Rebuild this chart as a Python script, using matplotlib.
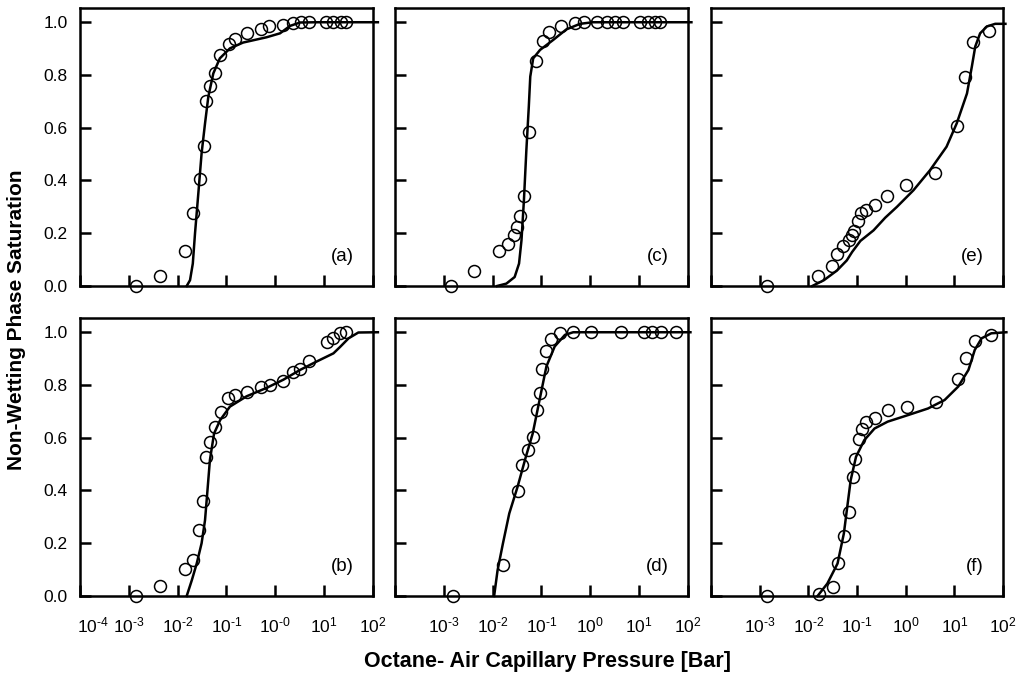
import numpy as np
import matplotlib
matplotlib.use("Agg")
import matplotlib.pyplot as plt
import matplotlib.transforms as mtransforms

plt.rcParams['font.family'] = ['Liberation Sans', 'DejaVu Sans']

# ---- data: log10 of capillary pressure [bar] and non-wetting saturation ----
a_pts_logp = [-2.85, -2.355, -1.86, -1.69, -1.55, -1.46, -1.43, -1.345, -1.235, -1.125, -0.955, -0.82,
              -0.59, -0.297, -0.126, 0.164, 0.369, 0.52, 0.697, 1.04, 1.19, 1.34, 1.45]
a_pts_s = [0.0, 0.037, 0.134, 0.277, 0.405, 0.53, 0.703, 0.76, 0.806, 0.875, 0.919, 0.938,
           0.961, 0.973, 0.986, 0.99, 0.999, 1.0, 1.0, 1.0, 1.0, 1.0, 1.0]
a_fit_logp = [-1.815, -1.747, -1.69, -1.645, -1.577, -1.51, -1.44, -1.372, -1.27, -1.137, -0.93,
              -0.66, -0.18, 0.096, 0.30, 0.505, 0.846, 2.1]
a_fit_s = [0.0, 0.022, 0.085, 0.199, 0.351, 0.503, 0.616, 0.718, 0.806, 0.863, 0.901,
           0.923, 0.943, 0.958, 0.986, 0.999, 1.0, 1.0]

b_pts_logp = [-2.85, -2.355, -1.86, -1.68, -1.56, -1.49, -1.41, -1.34, -1.235, -1.11, -0.96, -0.83,
              -0.59, -0.30, -0.11, 0.164, 0.37, 0.51, 0.697, 1.05, 1.19, 1.33, 1.44]
b_pts_s = [0.0, 0.039, 0.103, 0.135, 0.252, 0.362, 0.528, 0.585, 0.642, 0.699, 0.749, 0.761,
           0.775, 0.794, 0.799, 0.814, 0.848, 0.859, 0.892, 0.962, 0.98, 0.996, 1.0]
b_fit_logp = [-1.815, -1.71, -1.61, -1.51, -1.44, -1.39, -1.34, -1.255, -1.13, -0.93, -0.59,
              -0.18, 0.164, 0.505, 0.846, 1.19, 1.33, 1.50, 1.70, 2.1]
b_fit_s = [0.0, 0.06, 0.123, 0.2, 0.287, 0.40, 0.515, 0.616, 0.667, 0.718, 0.757,
           0.789, 0.82, 0.857, 0.889, 0.92, 0.945, 0.977, 0.999, 1.0]

c_pts_logp = [-2.86, -2.38, -1.87, -1.68, -1.56, -1.50, -1.44, -1.36, -1.25, -1.12, -0.96, -0.85,
              -0.61, -0.31, -0.13, 0.14, 0.34, 0.50, 0.67, 1.01, 1.19, 1.32, 1.43]
c_pts_s = [0.0, 0.056, 0.133, 0.16, 0.192, 0.224, 0.265, 0.34, 0.584, 0.853, 0.93, 0.962,
           0.987, 0.999, 1.0, 1.0, 1.0, 1.0, 1.0, 1.0, 1.0, 1.0, 1.0]
c_fit_logp = [-1.91, -1.72, -1.55, -1.46, -1.41, -1.36, -1.31, -1.26, -1.23, -1.17, -1.03,
              -0.76, -0.49, -0.21, 0.05, 2.07]
c_fit_s = [0.0, 0.009, 0.034, 0.085, 0.173, 0.325, 0.515, 0.68, 0.794, 0.863, 0.895,
           0.933, 0.973, 0.994, 1.0, 1.0]

d_pts_logp = [-2.82, -1.79, -1.49, -1.40, -1.28, -1.18, -1.09, -1.03, -0.99, -0.90, -0.81, -0.63,
              -0.36, 0.02, 0.62, 1.10, 1.27, 1.44, 1.75]
d_pts_s = [0.0, 0.119, 0.397, 0.496, 0.553, 0.601, 0.705, 0.771, 0.859, 0.929, 0.975, 0.996,
           1.0, 1.0, 1.0, 1.0, 1.0, 1.0, 1.0]
d_fit_logp = [-1.97, -1.90, -1.79, -1.66, -1.49, -1.32, -1.18, -1.04, -0.90, -0.73, -0.52, -0.35, 2.05]
d_fit_s = [0.0, 0.097, 0.199, 0.313, 0.414, 0.528, 0.616, 0.743, 0.87, 0.946, 0.99, 1.0, 1.0]

e_pts_logp = [-2.85, -1.80, -1.51, -1.41, -1.29, -1.17, -1.11, -1.07, -0.97, -0.91, -0.82, -0.64,
              -0.38, 0.01, 0.61, 1.05, 1.21, 1.38, 1.72]
e_pts_s = [0.0, 0.039, 0.076, 0.122, 0.152, 0.176, 0.192, 0.209, 0.247, 0.275, 0.287, 0.306,
           0.343, 0.382, 0.43, 0.608, 0.791, 0.924, 0.968]
e_fit_logp = [-1.92, -1.68, -1.41, -1.21, -1.10, -0.93, -0.66, -0.42, -0.18, 0.16, 0.50, 0.84,
              1.05, 1.26, 1.36, 1.43, 1.53, 1.67, 1.84, 2.05]
e_fit_s = [0.0, 0.022, 0.059, 0.097, 0.129, 0.171, 0.211, 0.259, 0.30, 0.363, 0.439, 0.528,
           0.617, 0.73, 0.832, 0.908, 0.958, 0.984, 0.994, 0.994]

f_pts_logp = [-2.85, -1.79, -1.50, -1.40, -1.27, -1.16, -1.09, -1.05, -0.95, -0.90, -0.81, -0.63,
              -0.36, 0.03, 0.63, 1.08, 1.24, 1.42, 1.75]
f_pts_s = [0.0, 0.009, 0.034, 0.127, 0.228, 0.319, 0.452, 0.519, 0.594, 0.632, 0.659, 0.675,
           0.704, 0.718, 0.737, 0.822, 0.904, 0.968, 0.989]
f_fit_logp = [-1.81, -1.61, -1.40, -1.27, -1.20, -1.13, -1.02, -0.85, -0.64, -0.37, 0.05, 0.46,
              0.80, 1.08, 1.29, 1.42, 1.56, 1.76, 2.07]
f_fit_s = [0.0, 0.047, 0.123, 0.237, 0.338, 0.439, 0.528, 0.591, 0.635, 0.661, 0.686, 0.711,
           0.743, 0.794, 0.857, 0.933, 0.977, 0.996, 1.0]

panel_labels = ['(a)', '(b)', '(c)', '(d)', '(e)', '(f)']
x_tick_exps = [-4, -3, -2, -1, 0, 1, 2]
HY = '\u2010'  # short hyphen as in the original tick labels
x_tick_labels_first = [HY + '4', HY + '3', HY + '2', HY + '1', HY + '0', '1', '2']
x_tick_labels_other = ['', HY + '3', HY + '2', HY + '1', '0', '1', '2']
y_ticks = [0.0, 0.2, 0.4, 0.6, 0.8, 1.0]

panels = [
    (a_pts_logp, a_pts_s, a_fit_logp, a_fit_s),
    (b_pts_logp, b_pts_s, b_fit_logp, b_fit_s),
    (c_pts_logp, c_pts_s, c_fit_logp, c_fit_s),
    (d_pts_logp, d_pts_s, d_fit_logp, d_fit_s),
    (e_pts_logp, e_pts_s, e_fit_logp, e_fit_s),
    (f_pts_logp, f_pts_s, f_fit_logp, f_fit_s),
]

fig = plt.figure(figsize=(10.18, 6.74), dpi=100)
W, H = 1018.0, 674.0
col_left = [80, 395, 711]
col_w = [293, 293, 292]
row_top = [8, 318]
row_h = 278

lw = 1.8
for i, (pl, ps, fl, fs) in enumerate(panels):
    col, row = i // 2, i % 2
    ax = fig.add_axes([col_left[col] / W, (H - row_top[row] - row_h) / H, col_w[col] / W, row_h / H])
    ax.plot(10 ** np.array(fl), fs, color='black', lw=1.8, clip_on=False, zorder=3)
    ax.plot(10 ** np.array(pl), ps, linestyle='none', marker='o', ms=8.6, mfc='none',
            mec='black', mew=1.1, clip_on=False, zorder=4)
    ax.set_xscale('log')
    ax.set_xlim(1e-4, 1e2)
    ax.set_ylim(0, 1.054)
    ax.minorticks_off()
    ax.set_xticks([10.0 ** e for e in x_tick_exps])
    ax.set_yticks(y_ticks)
    if row == 1:
        labs = x_tick_labels_first if col == 0 else x_tick_labels_other
        ax.set_xticklabels([r'$\mathregular{10^{%s}}$' % l if l else '' for l in labs])
    else:
        ax.set_xticklabels([])
    if col == 0:
        ax.set_yticklabels(['%.1f' % v for v in y_ticks])
    else:
        ax.set_yticklabels([])
    ax.tick_params(axis='both', direction='in', length=8, width=1.8, labelsize=12.5)
    ax.tick_params(axis='x', pad=14)
    ax.tick_params(axis='y', pad=9)
    if row == 1 and col == 0:
        first = ax.get_xticklabels()[0]
        first.set_horizontalalignment('left')
        first.set_transform(first.get_transform() +
                            mtransforms.ScaledTranslation(-3 / 100, 0, fig.dpi_scale_trans))
    for sp in ax.spines.values():
        sp.set_linewidth(lw)
    ax.text(0.935, 0.105, panel_labels[i], transform=ax.transAxes, ha='right', va='center',
            fontsize=13.5)

fig.text(17 / W, 1 - 320 / H, 'Non-Wetting Phase Saturation', rotation=90, ha='center', va='center',
         fontsize=15, fontweight='bold')
fig.text(547 / W, 1 - 661 / H, 'Octane- Air Capillary Pressure [Bar]', ha='center', va='center',
         fontsize=15.5, fontweight='bold')

fig.savefig('out.png', dpi=100)
